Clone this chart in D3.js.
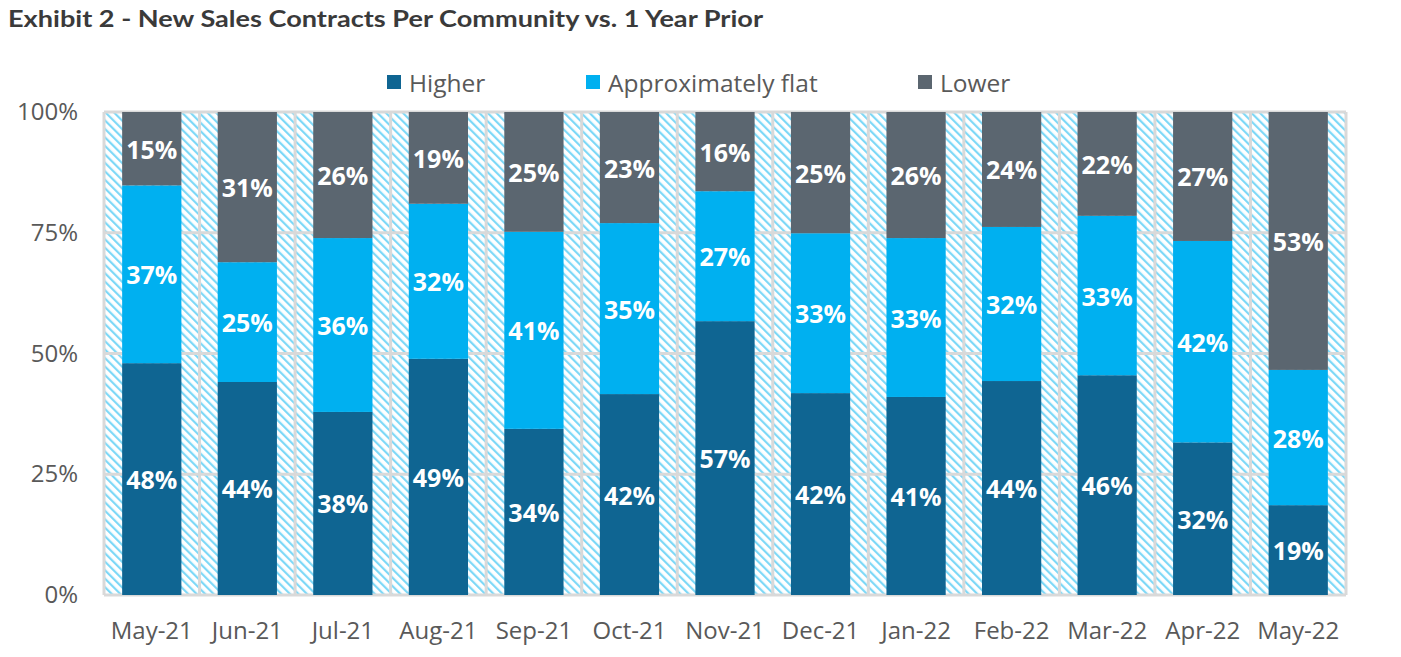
<!DOCTYPE html>
<html><head><meta charset="utf-8">
<script src="https://cdn.jsdelivr.net/npm/d3@7"></script>
<style>body{margin:0;background:#fff}svg{display:block}</style>
</head><body>
<script>
const months = ["May-21","Jun-21","Jul-21","Aug-21","Sep-21","Oct-21","Nov-21","Dec-21","Jan-22","Feb-22","Mar-22","Apr-22","May-22"];
const higher = [48.0,44.1,37.9,48.9,34.4,41.6,56.7,41.8,41.0,44.3,45.5,31.6,18.6];
const flat   = [36.8,24.8,36.0,32.1,40.8,35.4,26.9,33.1,32.9,31.9,33.0,41.7,28.0];
const lower  = [15.2,31.1,26.1,19.0,24.8,23.0,16.4,25.1,26.1,23.8,21.5,26.7,53.4];
const seriesNames = ["Higher","Approximately flat","Lower"];
const yTicks = [0,25,50,75,100];
const title = "Exhibit 2 - New Sales Contracts Per Community vs. 1 Year Prior";

const colors = {"Higher":"#0F6592","Approximately flat":"#00B0F0","Lower":"#5B6670"};
const W=1401,H=657;
const m={left:104,right:55,top:112,bottom:62};
const svg=d3.select("body").append("svg").attr("width",W).attr("height",H);

const defs=svg.append("defs");
const pat=defs.append("pattern").attr("id","hatch").attr("patternUnits","userSpaceOnUse")
  .attr("width",6).attr("height",6).attr("patternTransform","rotate(-45)");
pat.append("rect").attr("width",6).attr("height",6).attr("fill","#ffffff");
pat.append("rect").attr("x",0).attr("width",2.2).attr("height",6).attr("fill","#7dd8f7");

const data = months.map((mo,i)=>({month:mo,"Higher":higher[i],"Approximately flat":flat[i],"Lower":lower[i]}));
const stack=d3.stack().keys(seriesNames)(data);

const x=d3.scaleBand().domain(months).range([m.left,W-m.right]).paddingInner(0).paddingOuter(0);
const y=d3.scaleLinear().domain([0,100]).range([H-m.bottom,m.top]);

// title
svg.append("text").attr("x",8).attr("y",27).text(title)
  .attr("font-family","Lato,sans-serif").attr("font-weight",700).attr("font-size",22)
  .attr("fill","#3a3a3a").attr("textLength",755).attr("lengthAdjust","spacingAndGlyphs");

// plot background hatch
svg.append("rect").attr("x",m.left).attr("y",m.top).attr("width",W-m.right-m.left).attr("height",H-m.bottom-m.top)
  .attr("fill","url(#hatch)");

// gridlines
const g=svg.append("g").attr("stroke","#d9d9d9").attr("stroke-width",3);
yTicks.forEach(t=>g.append("line").attr("x1",m.left).attr("x2",W-m.right).attr("y1",y(t)).attr("y2",y(t)));
months.forEach(mo=>g.append("line").attr("x1",x(mo)).attr("x2",x(mo)).attr("y1",m.top).attr("y2",H-m.bottom));
g.append("line").attr("x1",W-m.right).attr("x2",W-m.right).attr("y1",m.top).attr("y2",H-m.bottom);

// bars
const bw=x.bandwidth()*0.62;
const layers=svg.append("g").selectAll("g").data(stack).join("g").attr("fill",d=>colors[d.key]);
layers.selectAll("rect").data(d=>d).join("rect")
  .attr("x",d=>x(d.data.month)+(x.bandwidth()-bw)/2).attr("width",bw)
  .attr("y",d=>y(d[1])).attr("height",d=>y(d[0])-y(d[1]));

// labels
const lab=svg.append("g");
stack.forEach(s=>{
  s.forEach(d=>{
    lab.append("text").attr("x",x(d.data.month)+x.bandwidth()/2).attr("y",(y(d[0])+y(d[1]))/2)
      .attr("text-anchor","middle").attr("dominant-baseline","central")
      .attr("font-family","'Open Sans',sans-serif").attr("font-weight",700).attr("font-size",25)
      .attr("fill","#ffffff").text(Math.round(d[1]-d[0])+"%");
  });
});

// y axis labels
const yAxis=d3.axisLeft(y).tickValues(yTicks).tickFormat(d=>d+"%").tickSize(0).tickPadding(0);
const ya=svg.append("g").attr("transform",`translate(78,0)`).call(yAxis);
ya.select(".domain").remove();
ya.selectAll("text").attr("font-family","'Open Sans',sans-serif").attr("font-size",24).attr("fill","#595959").attr("dy","0.32em");

// x axis labels
const xAxis=d3.axisBottom(x).tickSize(0).tickPadding(0);
const xa=svg.append("g").attr("transform",`translate(0,${H-m.bottom+27})`).call(xAxis);
xa.select(".domain").remove();
xa.selectAll("text").attr("font-family","'Open Sans',sans-serif").attr("font-size",24).attr("fill","#595959").attr("dy","0.71em");

// legend
const legX=[387,586,918];
const leg=svg.append("g");
seriesNames.forEach((n,i)=>{
  leg.append("rect").attr("x",legX[i]).attr("y",75).attr("width",14).attr("height",14).attr("fill",colors[n]);
  leg.append("text").attr("x",legX[i]+22).attr("y",82).attr("dominant-baseline","central")
    .attr("font-family","'Open Sans',sans-serif").attr("font-size",24.5).attr("fill","#595959").text(n);
});
</script>
</body></html>
